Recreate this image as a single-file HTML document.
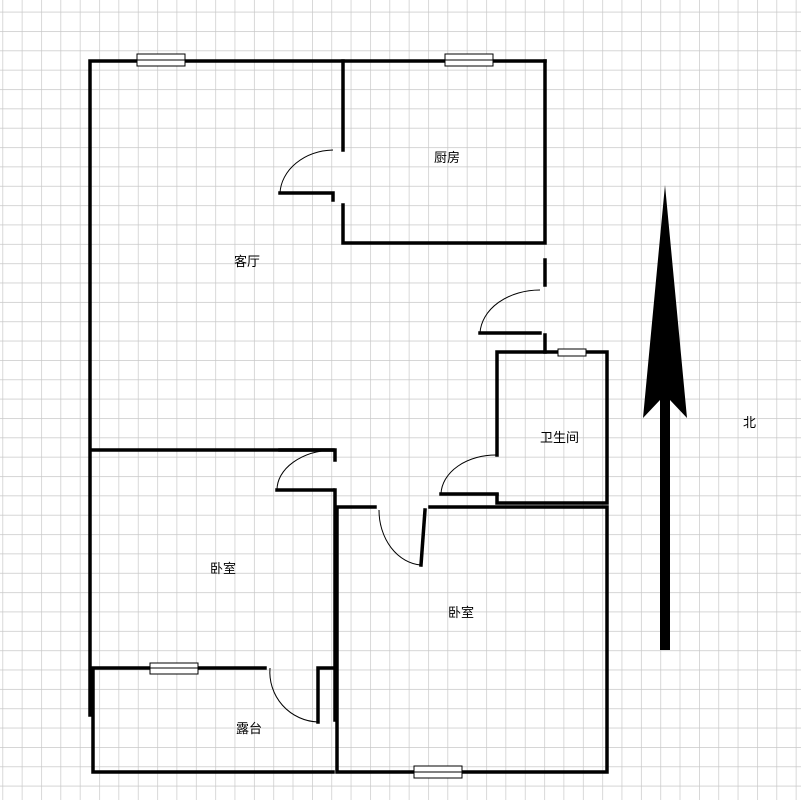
<!DOCTYPE html>
<html><head><meta charset="utf-8"><style>
html,body{margin:0;padding:0;background:#fff;}
svg{display:block;}
text{font-family:"Liberation Sans","Noto Sans CJK SC",sans-serif;font-size:13px;fill:#000;}
</style></head><body>
<svg width="801" height="800" viewBox="0 0 801 800" xmlns="http://www.w3.org/2000/svg">
<defs>
<pattern id="g" x="2.4" y="11.7" width="19.35" height="19.35" patternUnits="userSpaceOnUse">
<path d="M0 0H19.35M0 0V19.35" stroke="#c8c8c8" stroke-width="1.4" fill="none"/>
</pattern>
</defs>
<rect width="801" height="800" fill="url(#g)"/>
<g stroke="#000" stroke-width="3.5" fill="none" stroke-linecap="square">
<!-- outer left/top -->
<path d="M90 715V61H545"/>
<!-- kitchen -->
<path d="M343 61V150M343 205V243H545V61"/>
<path d="M545 260V285M545 335V352"/>
<!-- bathroom -->
<path d="M497 455V352H607V503H497V495"/>
<!-- bedroom 2 -->
<path d="M337 507V772H607V507H430M375 507H337"/>
<!-- bedroom 1 -->
<path d="M91 450H335V460M335 490V720"/>
<!-- terrace -->
<path d="M93 668V772H333M93 668H265M318 668H333M318 668V722"/>
<!-- door stubs -->
<path d="M280 193H333V200M280 450H333M277 490H333M441 494H497M480 333H540"/>
<path d="M425 510L421 565"/>
</g>
<g stroke="#000" stroke-width="1" fill="none">
<path d="M280 193A55 45 0 0 1 333 150"/>
<path d="M277 490A58 40 0 0 1 333 450"/>
<path d="M441 494A55 40 0 0 1 497 455"/>
<path d="M480 333A60 45 0 0 1 540 290"/>
<path d="M379 510A45 55 0 0 0 421 565"/>
<path d="M270 668A50 50 0 0 0 318 722"/>
</g>
<!-- windows -->
<g fill="#fff" stroke="#000" stroke-width="1">
<rect x="137" y="54" width="48" height="12"/><line x1="137" y1="60" x2="185" y2="60"/>
<rect x="445" y="54" width="48" height="12"/><line x1="445" y1="60" x2="493" y2="60"/>
<rect x="558" y="349" width="28" height="7"/>
<rect x="150" y="663" width="48" height="11"/><line x1="150" y1="668" x2="198" y2="668"/>
<rect x="414" y="766" width="48" height="12"/><line x1="414" y1="772" x2="462" y2="772"/>
</g>
<!-- north arrow -->
<path d="M660 650V400L643 418L665 185L687 418L670 400V650Z" fill="#000"/>
<text x="434" y="162">厨房</text>
<text x="234" y="266">客厅</text>
<text x="540" y="442">卫生间</text>
<text x="210" y="573">卧室</text>
<text x="448" y="617">卧室</text>
<text x="236" y="733">露台</text>
<text x="743" y="427">北</text>
</svg>
</body></html>
